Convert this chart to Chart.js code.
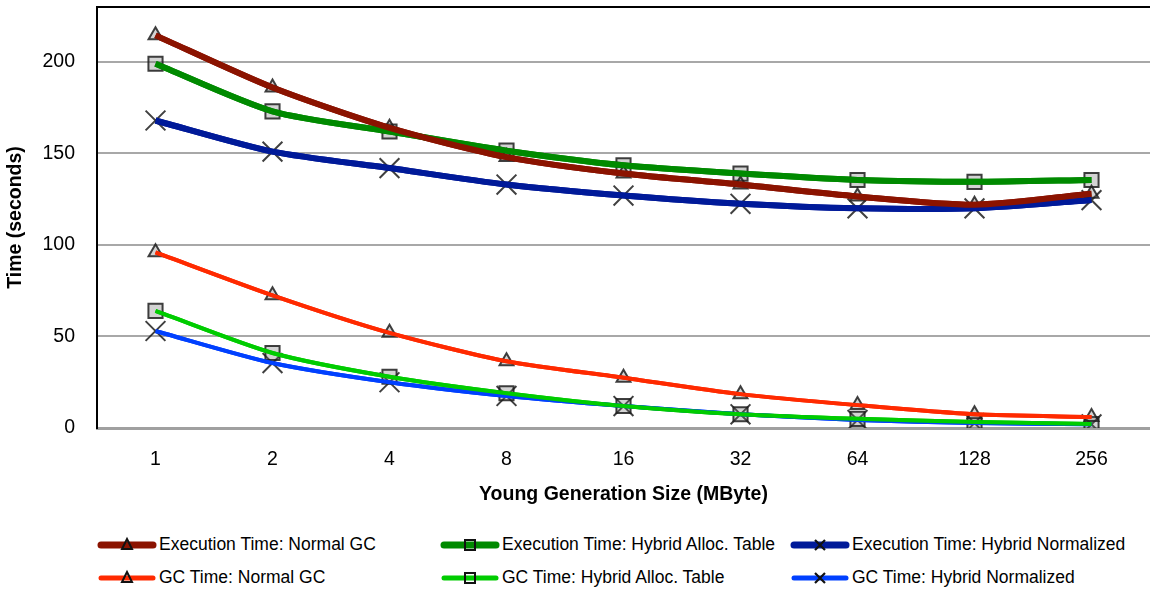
<!DOCTYPE html>
<html>
<head>
<meta charset="utf-8">
<script src="https://cdn.jsdelivr.net/npm/chart.js@4"></script>
<style>
  body { margin: 0; background: #fff; font-family: "Liberation Sans", Arial, sans-serif; overflow: hidden; }
  #wrap { position: relative; width: 1150px; height: 593px; }
  #chart-box { position: absolute; left: 0; top: 0; width: 1150px; height: 510px; }
  .leg { position: absolute; display: flex; align-items: center; font-size: 17.5px; color: #000; white-space: nowrap; }
  .leg svg { display: block; margin-right: 2px; }
</style>
</head>
<body>
<div id="wrap">
  <div id="chart-box"><canvas id="graph"></canvas></div>
  <div id="legend"></div>
</div>
<script>
const categories = ['1', '2', '4', '8', '16', '32', '64', '128', '256'];

const execNormal = [214.5, 186, 164, 148, 139, 133, 126.5, 122, 128];
const execHybridAlloc = [199, 173, 162, 151.5, 143.5, 139, 135.5, 134.5, 135.5];
const execHybridNorm = [168, 151, 142, 133, 127, 122.5, 120, 120, 124.5];
const gcNormal = [96, 72.5, 52, 36.5, 27.5, 18.5, 12.5, 7.5, 6];
const gcHybridAlloc = [64, 41, 28, 19, 12, 7.5, 5, 3.3, 2.2];
const gcHybridNorm = [53, 35.5, 25, 17.5, 12, 7.5, 4.4, 2.7, 2];

const yTicks = [0, 50, 100, 150, 200];

const markerBorder = 'rgba(30,30,30,0.85)';
const markerFill = 'rgba(110,110,110,0.3)';

function serie(label, data, color, width, style, radius) {
    return {
        label: label,
        data: data,
        borderColor: color,
        borderWidth: width,
        tension: 0.25,
        pointStyle: style,
        pointRadius: radius,
        pointBorderColor: markerBorder,
        pointBackgroundColor: markerFill,
        pointBorderWidth: 2,
        fill: false
    };
}

const datasets = [
    serie('Execution Time: Normal GC', execNormal, '#8b1300', 6, 'triangle', 8),
    serie('Execution Time: Hybrid Alloc. Table', execHybridAlloc, '#008a00', 6, 'rect', 10),
    serie('Execution Time: Hybrid Normalized', execHybridNorm, '#001a99', 6, 'crossRot', 14),
    serie('GC Time: Normal GC', gcNormal, '#ff2a00', 4, 'triangle', 8),
    serie('GC Time: Hybrid Alloc. Table', gcHybridAlloc, '#00cc00', 4, 'rect', 10),
    serie('GC Time: Hybrid Normalized', gcHybridNorm, '#0040ff', 4, 'crossRot', 14)
];

// lines sit on top of the markers, like in the original
const linesOnTop = {
    id: 'linesOnTop',
    afterDatasetsDraw(chart) {
        const c = chart.ctx;
        c.save();
        c.beginPath();
        c.rect(chart.chartArea.left, chart.chartArea.top, chart.chartArea.width, chart.chartArea.height);
        c.clip();
        for (let i = chart.data.datasets.length - 1; i >= 0; i--) {
            const meta = chart.getDatasetMeta(i);
            if (meta.dataset) meta.dataset.draw(c, chart.chartArea);
        }
        c.restore();
    }
};

// top border of the plot area
const topBorder = {
    id: 'topBorder',
    afterDraw(chart) {
        const a = chart.chartArea;
        const c = chart.ctx;
        c.save();
        c.strokeStyle = '#000';
        c.lineWidth = 2;
        c.beginPath();
        c.moveTo(a.left - 1, a.top);
        c.lineTo(a.right, a.top);
        c.stroke();
        c.restore();
    }
};

const font = { family: '"Liberation Sans", Arial, sans-serif', size: 19.5 };
const titleFont = { family: '"Liberation Sans", Arial, sans-serif', size: 19.5, weight: 'bold' };

new Chart(document.getElementById('graph'), {
    type: 'line',
    data: { labels: categories, datasets: datasets },
    plugins: [linesOnTop, topBorder],
    options: {
        responsive: true,
        maintainAspectRatio: false,
        animation: false,
        layout: { autoPadding: false, padding: { top: 7, right: 0, left: 0, bottom: 0 } },
        plugins: { legend: { display: false }, tooltip: { enabled: false } },
        scales: {
            x: {
                offset: true,
                grid: { display: false, offset: true },
                border: { color: '#a0a0a0', width: 3 },
                ticks: { color: '#000', font: font, padding: 12 },
                title: { display: true, text: 'Young Generation Size (MByte)', color: '#000',
                         font: titleFont, padding: { top: 10 } },
                afterFit(scale) {
                    scale.height = 82;
                    scale.paddingLeft = 0;
                    scale.paddingRight = 0;
                }
            },
            y: {
                min: 0,
                max: 230,
                afterBuildTicks(scale) { scale.ticks = yTicks.map(v => ({ value: v })); },
                grid: { color: '#a8a8a8', lineWidth: 2, drawTicks: false },
                border: { color: '#000', width: 2 },
                ticks: { color: '#000', font: font, padding: 22 },
                title: { display: true, text: 'Time (seconds)', color: '#000',
                         font: titleFont, padding: { bottom: 2 } },
                afterFit(scale) {
                    scale.width = 97;
                    scale.paddingTop = 0;
                    scale.paddingBottom = 0;
                }
            }
        }
    }
});

// HTML legend, two rows of three
const legendCols = [97, 440, 790];
const legendRows = [545, 578];

function markerSvg(style) {
    if (style === 'triangle') return '<path d="M30 4 L35 14 L25 14 Z" fill="none" stroke="#111" stroke-width="2"/>';
    if (style === 'rect') return '<rect x="25" y="5" width="10" height="10" fill="none" stroke="#111" stroke-width="2"/>';
    return '<path d="M25 5 L35 15 M35 5 L25 15" stroke="#111" stroke-width="2.2"/>';
}

const legendEl = document.getElementById('legend');
datasets.forEach((ds, i) => {
    const col = i % 3;
    const row = Math.floor(i / 3);
    const div = document.createElement('div');
    div.className = 'leg';
    div.style.left = legendCols[col] + 'px';
    div.style.top = (legendRows[row] - 11) + 'px';
    const w = ds.borderWidth + 1;
    div.innerHTML = '<svg width="60" height="20"><line x1="4" y1="10" x2="56" y2="10" stroke="' + ds.borderColor +
        '" stroke-width="' + w + '" stroke-linecap="round"/>' + markerSvg(ds.pointStyle) + '</svg><span>' + ds.label + '</span>';
    legendEl.appendChild(div);
});
</script>
</body>
</html>
